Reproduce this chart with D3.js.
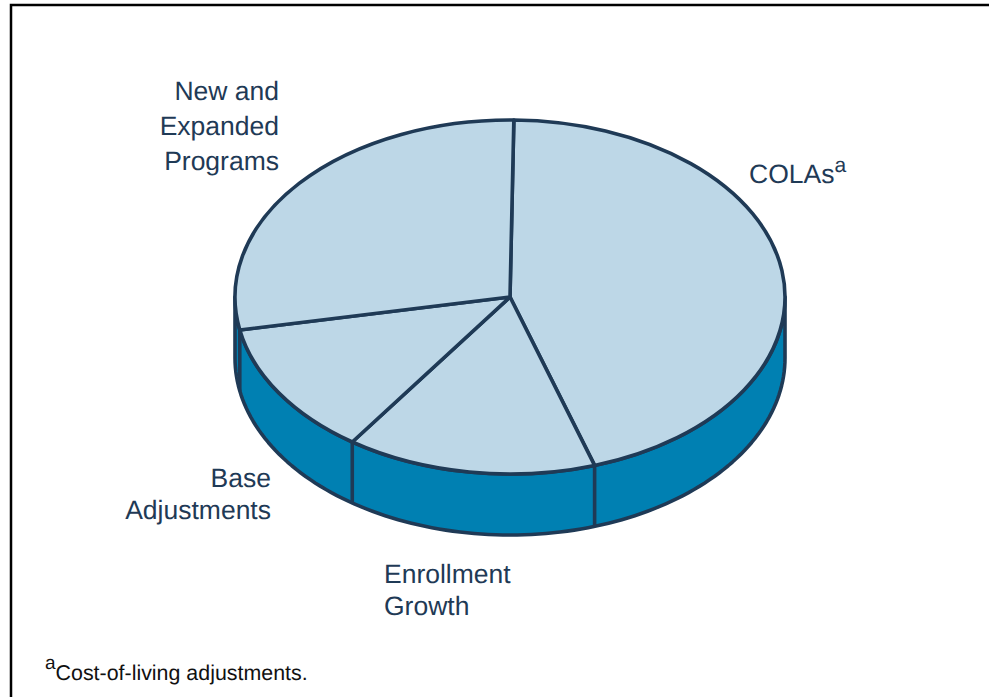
<!DOCTYPE html>
<html>
<head>
<meta charset="utf-8">
<script src="https://cdn.jsdelivr.net/npm/d3@7"></script>
<style>
  html, body { margin: 0; padding: 0; background: #fff; }
  svg { display: block; }
  text { font-family: "Liberation Sans", Arial, sans-serif; fill: #1f3a56; text-rendering: geometricPrecision; }
</style>
</head>
<body>
<svg id="chart" width="989" height="697"></svg>
<script>
// Shares of the funding increase, clockwise from the top of the pie
const categories = ["COLAs", "Enrollment Growth", "Base Adjustments", "New and Expanded Programs"];
const shares = [44.8, 14.7, 12.3, 28.2];
const labelRows = [["COLAs"], ["Enrollment", "Growth"], ["Base", "Adjustments"], ["New and", "Expanded", "Programs"]];
const footnoteMark = "a";
const footnote = "Cost-of-living adjustments.";

const firstAngleDeg = 0.8;
const width = 989, height = 697;
const cx = 510, cy = 297, rx = 275, ry = 177, depth = 61;
const ink = "#1f3a56", topFill = "#bdd7e7", sideFill = "#0080b2";

// Where each slice's label block sits
const placement = [
  { anchor: "start", x: 749, y: 182.5, leading: 0 },
  { anchor: "start", x: 384, y: 583, leading: 32 },
  { anchor: "end", x: 271, y: 487, leading: 31.5 },
  { anchor: "end", x: 279, y: 100, leading: 35 }
];

const svg = d3.select("#chart");

// Outer frame, open past the right and bottom edges of the page
svg.append("rect")
  .attr("x", 11).attr("y", 5).attr("width", width + 10).attr("height", height + 10)
  .attr("fill", "#fff").attr("stroke", "#000").attr("stroke-width", 2.5);

const start = firstAngleDeg * Math.PI / 180;
const pie = d3.pie().sort(null).startAngle(start).endAngle(start + 2 * Math.PI);
const arcs = pie(shares);

// Pie angle to a point on the tilted rim; angle 0 is straight up
const xScale = d3.scaleLinear().domain([-1, 1]).range([cx - rx, cx + rx]);
const yScale = d3.scaleLinear().domain([-1, 1]).range([cy + ry, cy - ry]);
const rim = (a, drop = 0) => [xScale(Math.sin(a)), yScale(Math.cos(a)) + drop];
const line = d3.line();
const rimPath = (a0, a1, drop) =>
  d3.range(0, 121).map(i => rim(a0 + (a1 - a0) * i / 120, drop));

// Side wall: the front half of the rim, pushed down by the pie's thickness
const front0 = Math.PI / 2, front1 = 3 * Math.PI / 2;
const wall = rimPath(front0, front1, 0).concat(rimPath(front1, front0, depth));
svg.append("path")
  .attr("d", line(wall) + "Z")
  .attr("fill", sideFill)
  .attr("stroke", ink).attr("stroke-width", 3.6).attr("stroke-linejoin", "round");

// Vertical seams on the wall below each slice boundary that faces front
arcs.map(d => d.startAngle)
  .filter(a => a > front0 && a < front1)
  .forEach(a => {
    svg.append("path")
      .attr("d", line([rim(a), rim(a, depth)]))
      .attr("fill", "none").attr("stroke", ink).attr("stroke-width", 3.6);
  });

// Top face: circular arcs flattened into the ellipse
const arcGen = d3.arc().innerRadius(0).outerRadius(rx);
svg.append("g")
  .attr("transform", `translate(${cx},${cy}) scale(1,${ry / rx})`)
  .selectAll("path")
  .data(arcs)
  .join("path")
  .attr("d", arcGen)
  .attr("fill", topFill)
  .attr("stroke", ink).attr("stroke-width", 3.6)
  .attr("stroke-linejoin", "round")
  .attr("vector-effect", "non-scaling-stroke");

// Slice labels; the first slice carries the footnote mark
labelRows.forEach((rows, k) => {
  const p = placement[k];
  rows.forEach((s, i) => {
    const t = svg.append("text")
      .attr("x", p.x).attr("y", p.y + i * p.leading)
      .attr("text-anchor", p.anchor)
      .attr("font-size", 26.5)
      .text(s);
    if (k === 0) {
      t.append("tspan").attr("dy", -10.5).attr("font-size", 21).text(footnoteMark);
    }
  });
});

// Footnote
const note = svg.append("text").attr("x", 45).attr("y", 680).attr("font-size", 21.4).style("fill", "#111");
note.append("tspan").attr("dy", -11).attr("font-size", 19).text(footnoteMark);
note.append("tspan").attr("dy", 11).text(footnote);
</script>
</body>
</html>
